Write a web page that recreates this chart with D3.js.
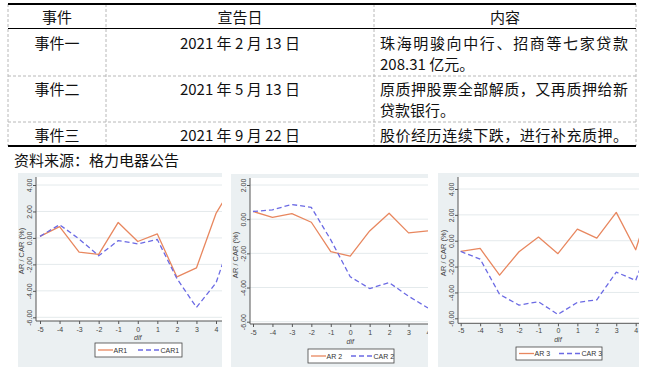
<!DOCTYPE html>
<html>
<head>
  <meta charset="utf-8">
  <title>格力电器 质押事件 AR / CAR</title>
  <script src="https://d3js.org/d3.v7.min.js"></script>
  <style>
    body { margin: 0; background: #fff; }
    svg { display: block; }
  </style>
</head>
<body>
<script>
// table content
var headers = ["事件", "宣告日", "内容"];
var events = ["事件一", "事件二", "事件三"];
var dates = ["2021 年 2 月 13 日", "2021 年 5 月 13 日", "2021 年 9 月 22 日"];
var contents = [
  ["珠海明骏向中行、招商等七家贷款", "208.31 亿元。"],
  ["原质押股票全部解质，又再质押给新", "贷款银行。"],
  ["股价经历连续下跌，进行补充质押。"]
];
var source = "资料来源：格力电器公告";

// event window and series (%)
var dif = [-5, -4, -3, -2, -1, 0, 1, 2, 3, 4, 5];
var ar1  = [0.12, 0.85, -1.07, -1.25, 1.17, -0.27, 0.30, -2.95, -2.27, 1.85, 4.3];
var car1 = [0.12, 1.00, -0.08, -1.35, -0.20, -0.45, -0.12, -3.07, -5.25, -3.40, 0.9];
var ar2  = [0.45, 0.10, 0.33, -0.18, -1.90, -2.16, -0.69, 0.35, -0.80, -0.69];
var car2 = [0.45, 0.55, 0.86, 0.69, -1.21, -3.37, -4.06, -3.71, -4.51, -5.20];
var ar3  = [-0.83, -0.60, -2.66, -0.85, 0.28, -1.00, 0.90, 0.20, 2.19, -0.70, 4.0];
var car3 = [-0.83, -1.42, -4.15, -4.98, -4.72, -5.70, -4.77, -4.57, -2.43, -3.07, 0.9];
var yTicks1 = [-6, -4, -2, 0, 2, 4];
var yTicks2 = [-6, -4, -2, 0, 2];
var yTicks3 = [-6, -4, -2, 0, 2, 4];

var svg = d3.select("body").append("svg")
  .attr("width", 650)
  .attr("height", 374);

// ---- table ----
var cols = [8, 106, 374, 636];
var tTop = 4, tBottom = 146;
var rowLines = [76, 122];
var cjk = "'Noto Sans CJK SC', sans-serif";

svg.selectAll("line.vcol")
  .data(cols)
  .enter().append("line")
  .attr("x1", function(d) { return d; })
  .attr("x2", function(d) { return d; })
  .attr("y1", tTop).attr("y2", tBottom)
  .attr("stroke", "#b8b8b8")
  .attr("stroke-dasharray", "3,2");

svg.selectAll("line.row")
  .data(rowLines)
  .enter().append("line")
  .attr("x1", cols[0]).attr("x2", cols[3])
  .attr("y1", function(d) { return d; })
  .attr("y2", function(d) { return d; })
  .attr("stroke", "#b8b8b8")
  .attr("stroke-dasharray", "3,2");

svg.append("line").attr("x1", cols[0]).attr("x2", cols[3])
  .attr("y1", 28.5).attr("y2", 28.5).attr("stroke", "#000").attr("stroke-width", 1);
svg.append("line").attr("x1", cols[0]).attr("x2", cols[3])
  .attr("y1", tTop).attr("y2", tTop).attr("stroke", "#000").attr("stroke-width", 2.2);
svg.append("line").attr("x1", cols[0]).attr("x2", cols[3])
  .attr("y1", tBottom).attr("y2", tBottom).attr("stroke", "#000").attr("stroke-width", 2.2);

var colCenter = function(i) { return (cols[i] + cols[i + 1]) / 2; };
var textStyle = function(sel) {
  sel.attr("font-family", cjk).attr("font-size", 15).attr("fill", "#111")
    .attr("dominant-baseline", "central");
};

svg.selectAll("text.head")
  .data(headers)
  .enter().append("text")
  .attr("x", function(d, i) { return colCenter(i); })
  .attr("y", 16)
  .attr("text-anchor", "middle")
  .text(function(d) { return d; })
  .call(textStyle);

var rowTop = [42.5, 88.5, 134];
var lineGap = 21;

svg.selectAll("text.evt")
  .data(events)
  .enter().append("text")
  .attr("x", colCenter(0))
  .attr("y", function(d, i) { return rowTop[i]; })
  .attr("text-anchor", "middle")
  .text(function(d) { return d; })
  .call(textStyle);

svg.selectAll("text.date")
  .data(dates)
  .enter().append("text")
  .attr("x", colCenter(1))
  .attr("y", function(d, i) { return rowTop[i]; })
  .attr("text-anchor", "middle")
  .text(function(d) { return d; })
  .call(textStyle);

contents.forEach(function(lines, i) {
  lines.forEach(function(t, j) {
    svg.append("text")
      .attr("x", cols[2] + 6)
      .attr("y", rowTop[i] + j * lineGap)
      .attr("textLength", j === 0 ? 248 : null)
      .text(t)
      .call(textStyle);
  });
});

svg.append("text")
  .attr("x", 14).attr("y", 159)
  .text(source)
  .call(textStyle);

// ---- three event charts ----
var arColor = "#e8875f", carColor = "#6b6ae4";
var small = "'Liberation Sans', Arial, sans-serif";
var fmt2 = function(d) { return d.toFixed(2); };

function drawChart(c, ar, car, arName, carName, yTicks, id) {
  var g = svg.append("g");
  var right = c.px + c.pw;
  g.append("clipPath").attr("id", "clip" + id)
    .append("rect")
    .attr("x", c.px).attr("y", c.py).attr("width", c.pw).attr("height", c.ph);
  var gc = g.append("g").attr("clip-path", "url(#clip" + id + ")");

  gc.append("rect")
    .attr("x", c.px).attr("y", c.py).attr("width", c.pw).attr("height", c.ph)
    .attr("fill", "#ebf0f2");

  var x = d3.scaleLinear().domain([-5, 4]).range([c.x0, c.x4]);
  var y = d3.scaleLinear().domain(c.yDom).range(c.yRange);

  // white plot region
  gc.append("rect")
    .attr("x", c.axisX).attr("y", c.plotTop)
    .attr("width", right - c.axisX).attr("height", c.axisY - c.plotTop)
    .attr("fill", "#fff");

  // grid
  gc.selectAll("line.grid")
    .data(yTicks)
    .enter().append("line")
    .attr("x1", c.axisX).attr("x2", right)
    .attr("y1", function(d) { return y(d); })
    .attr("y2", function(d) { return y(d); })
    .attr("stroke", "#e4eaec")
    .attr("stroke-width", 1);

  // y axis
  var ya = gc.append("g")
    .attr("transform", "translate(" + c.axisX + ",0)")
    .call(d3.axisLeft(y).tickValues(yTicks).tickSize(3).tickFormat(fmt2));
  ya.select(".domain").attr("stroke", "#555").attr("d", "M0," + c.plotTop + "V" + c.axisY);
  ya.selectAll(".tick line").attr("stroke", "#555");
  ya.selectAll(".tick text")
    .attr("font-family", small).attr("font-size", 7).attr("fill", "#444")
    .attr("x", null).attr("dy", null)
    .attr("text-anchor", "middle")
    .attr("dominant-baseline", "central")
    .attr("transform", "translate(" + (c.tickLabelX - c.axisX) + ",0) rotate(-90)");

  // x axis, only ticks that fall inside the cropped panel
  var xTicks = dif.filter(function(d) { return x(d) <= right + 1; });
  var xa = gc.append("g")
    .attr("transform", "translate(0," + c.axisY + ")")
    .call(d3.axisBottom(x).tickValues(xTicks).tickSize(3).tickFormat(d3.format("d")));
  xa.select(".domain").attr("stroke", "#555").attr("d", "M" + c.axisX + ",0H" + right);
  xa.selectAll(".tick line").attr("stroke", "#555");
  xa.selectAll(".tick text")
    .attr("font-family", small).attr("font-size", 7).attr("fill", "#444")
    .attr("dy", null)
    .attr("dominant-baseline", "central")
    .attr("y", c.xLabelY - c.axisY)
    .text(function(d) { return String(d); });

  gc.append("text")
    .attr("x", x(0)).attr("y", c.difY)
    .attr("text-anchor", "middle")
    .attr("dominant-baseline", "central")
    .attr("font-family", small).attr("font-size", 7).attr("font-style", "italic")
    .attr("fill", "#444")
    .text("dif");

  gc.append("text")
    .attr("transform", "translate(" + c.titleX + "," + c.titleY + ") rotate(-90)")
    .attr("text-anchor", "middle")
    .attr("dominant-baseline", "central")
    .attr("font-family", small).attr("font-size", 7.5).attr("fill", "#444")
    .text("AR / CAR (%)");

  // lines
  var line = d3.line()
    .x(function(d, i) { return x(dif[i]); })
    .y(function(d) { return y(d); });

  gc.append("path")
    .attr("d", line(ar))
    .attr("fill", "none")
    .attr("stroke", arColor)
    .attr("stroke-width", 1.3)
    .attr("stroke-linejoin", "round");
  gc.append("path")
    .attr("d", line(car))
    .attr("fill", "none")
    .attr("stroke", carColor)
    .attr("stroke-width", 1.3)
    .attr("stroke-dasharray", "5,3")
    .attr("stroke-linejoin", "round");

  // legend
  var L = c.legend;
  gc.append("rect")
    .attr("x", L.x).attr("y", L.y).attr("width", L.w).attr("height", L.h)
    .attr("fill", "#fff").attr("stroke", "#444").attr("stroke-width", 0.8);
  var ly = L.y + L.h / 2;
  gc.append("line")
    .attr("x1", L.x + 3).attr("x2", L.x + 18)
    .attr("y1", ly).attr("y2", ly)
    .attr("stroke", arColor).attr("stroke-width", 1.3);
  gc.append("text")
    .attr("x", L.x + 18.5).attr("y", ly).attr("dominant-baseline", "central")
    .attr("font-family", small).attr("font-size", 7).attr("fill", "#333")
    .text(arName);
  gc.append("line")
    .attr("x1", L.x + 43).attr("x2", L.x + 65)
    .attr("y1", ly).attr("y2", ly)
    .attr("stroke", carColor).attr("stroke-width", 1.3)
    .attr("stroke-dasharray", "5,3");
  gc.append("text")
    .attr("x", L.x + 65.5).attr("y", ly).attr("dominant-baseline", "central")
    .attr("font-family", small).attr("font-size", 7).attr("fill", "#333")
    .text(carName);
}

drawChart({
  px: 18, py: 173, pw: 204, ph: 194,
  axisX: 36, axisY: 321, plotTop: 177,
  x0: 40, x4: 216, yDom: [4, -6], yRange: [185, 317.3],
  tickLabelX: 29, titleX: 21, titleY: 251,
  xLabelY: 329, difY: 337.5,
  legend: { x: 95, y: 343, w: 87, h: 14 }
}, ar1, car1, "AR1", "CAR1", yTicks1, 1);

drawChart({
  px: 231, py: 174, pw: 197, ph: 193,
  axisX: 250, axisY: 324, plotTop: 178,
  x0: 253, x4: 428, yDom: [2, -6], yRange: [185, 321.7],
  tickLabelX: 243, titleX: 235, titleY: 255,
  xLabelY: 332, difY: 341,
  legend: { x: 308, y: 349, w: 86, h: 14 }
}, ar2, car2, "AR 2", "CAR 2", yTicks2, 2);

drawChart({
  px: 438, py: 173, pw: 201, ph: 194,
  axisX: 458, axisY: 323.3, plotTop: 177,
  x0: 460.7, x4: 635.7, yDom: [4, -6], yRange: [189, 318.3],
  tickLabelX: 451, titleX: 443, titleY: 253,
  xLabelY: 331, difY: 339,
  legend: { x: 516, y: 347, w: 86, h: 13 }
}, ar3, car3, "AR 3", "CAR 3", yTicks3, 3);
</script>
</body>
</html>
